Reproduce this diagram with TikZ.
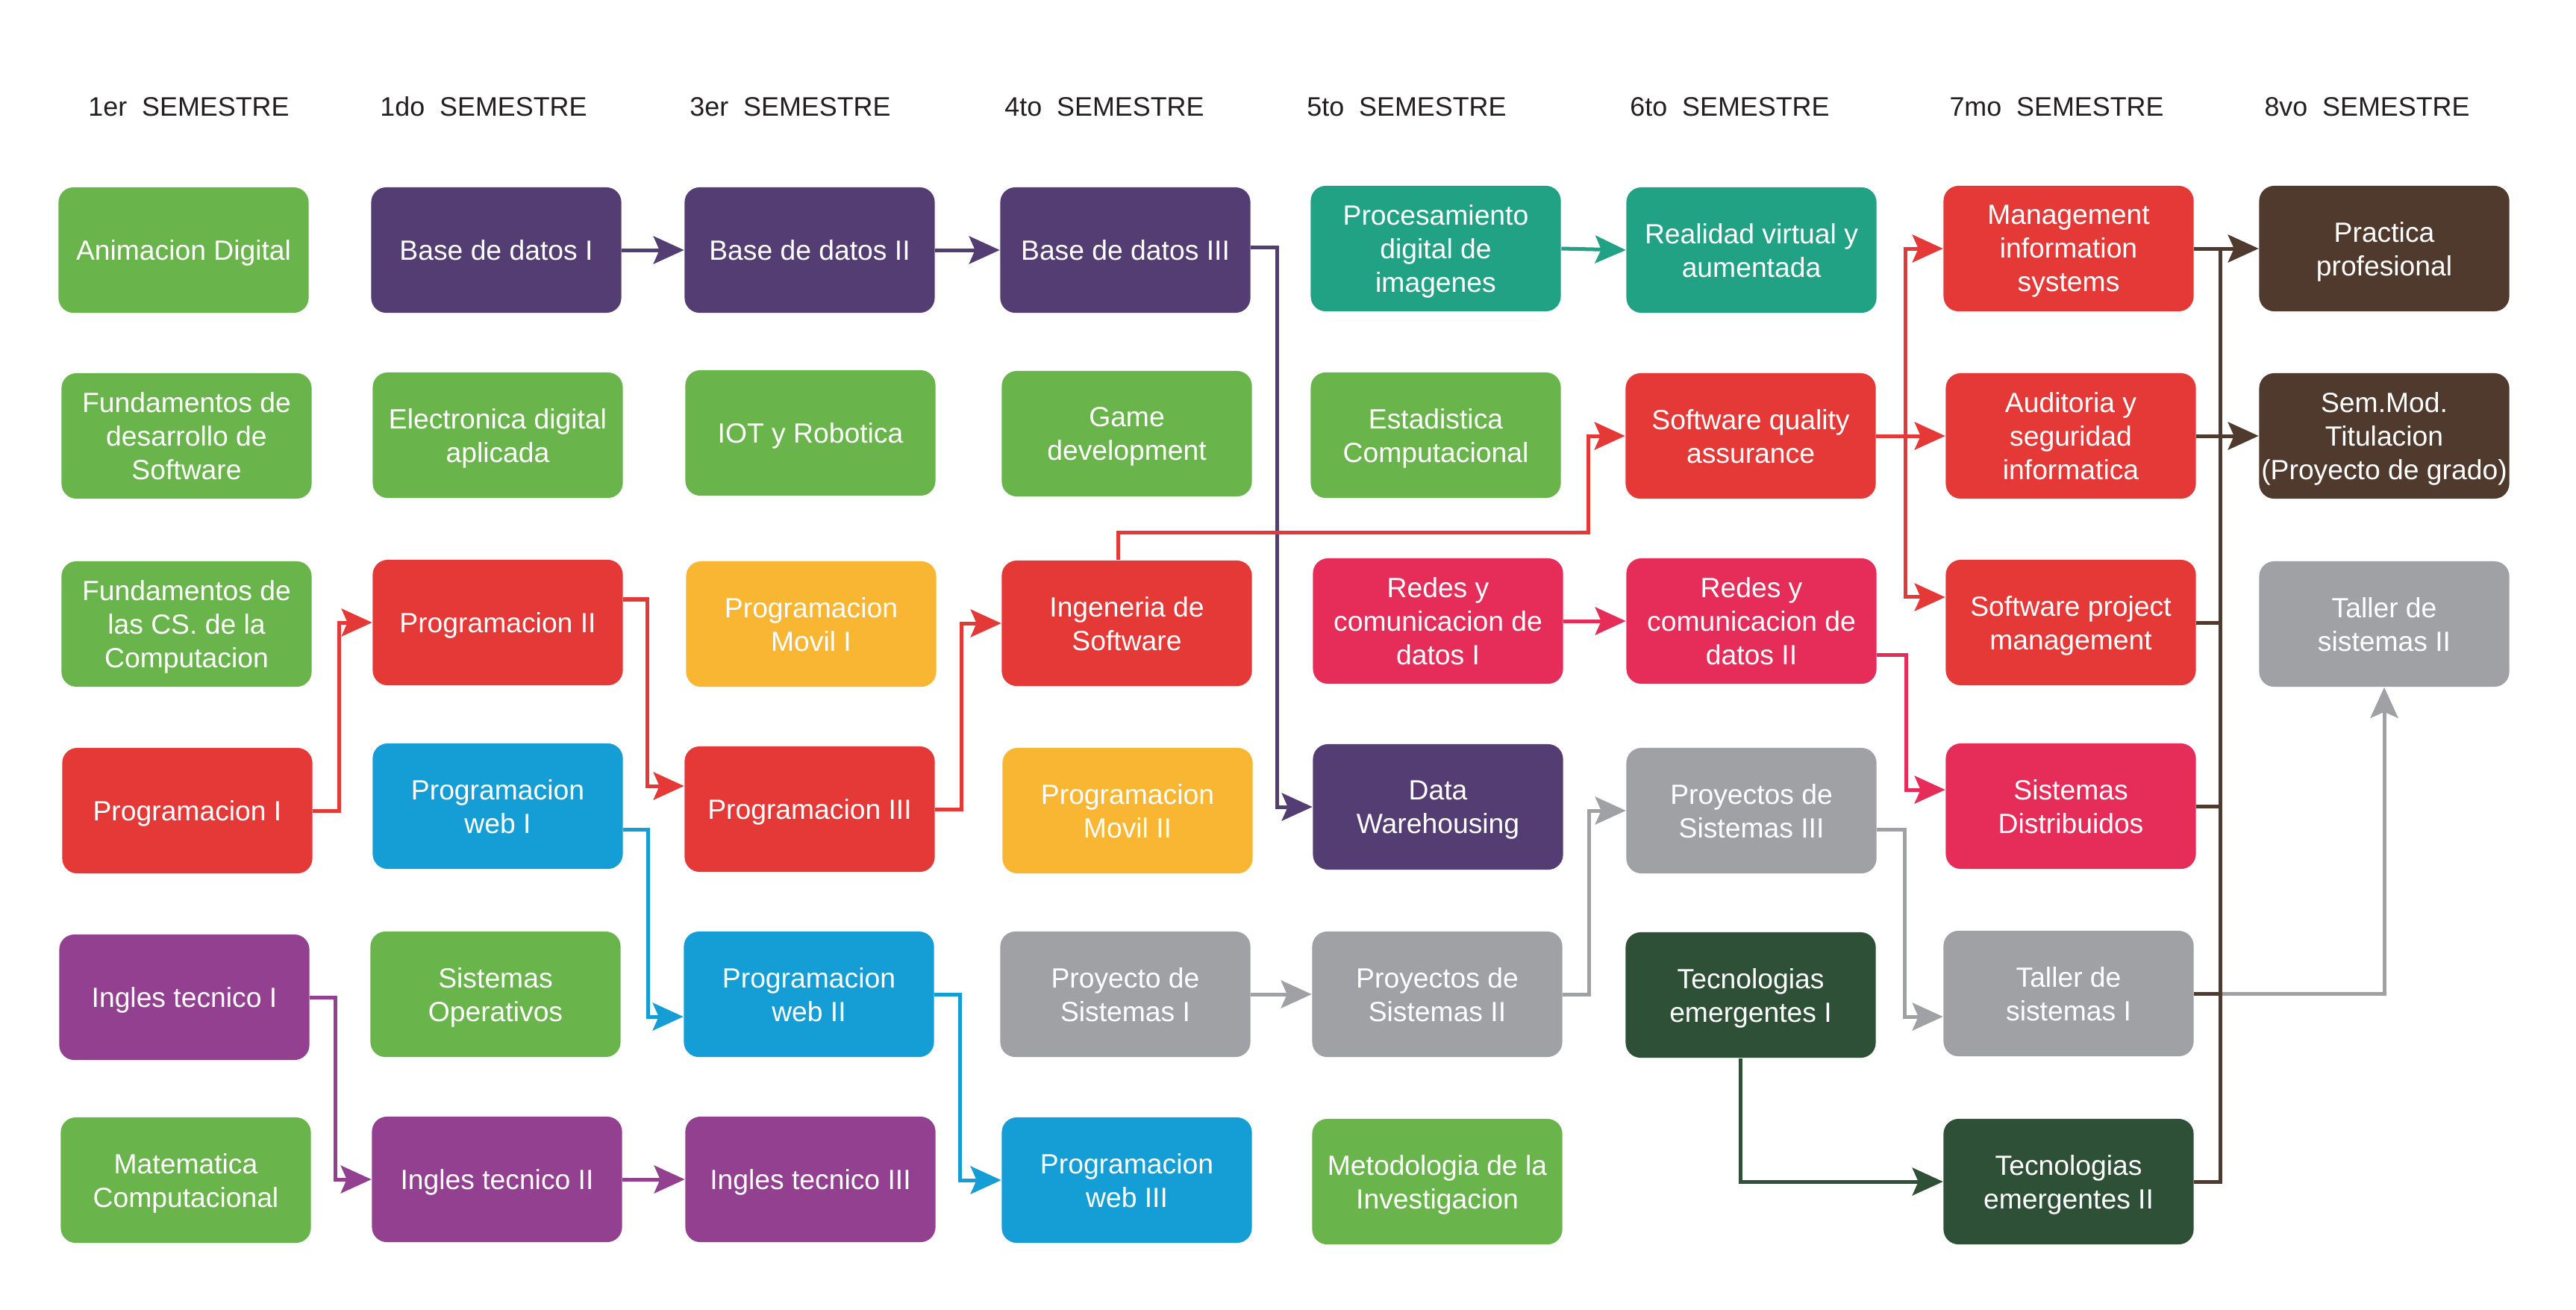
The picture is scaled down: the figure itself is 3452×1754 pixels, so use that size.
\documentclass[tikz,border=0pt]{standalone}
\usepackage{fontspec}
\setmainfont{Liberation Sans}
\usetikzlibrary{arrows.meta}
\definecolor{cgreen}{HTML}{6AB44C}
\definecolor{cpurple}{HTML}{533D73}
\definecolor{cteal}{HTML}{22A285}
\definecolor{cred}{HTML}{E53938}
\definecolor{cpink}{HTML}{E62D5A}
\definecolor{cyellow}{HTML}{F9B632}
\definecolor{cblue}{HTML}{159ED6}
\definecolor{cgray}{HTML}{A0A1A5}
\definecolor{cdgreen}{HTML}{2D5037}
\definecolor{cbrown}{HTML}{4F3A2D}
\definecolor{cmagenta}{HTML}{92408F}
\definecolor{ctext}{HTML}{231F20}
\tikzset{
  course/.style={rectangle, rounded corners=0.2cm, minimum width=3.35cm, minimum height=1.68cm,
    inner sep=0pt, align=center, text=white, text depth=0pt,
    font=\fontsize{10.6pt}{12.8pt}\selectfont},
  sem/.style={text=ctext, font=\fontsize{10.2pt}{12pt}\selectfont},
  link/.style={line width=0.05cm},
  arr/.style={link, -{Stealth[length=0.41cm,width=0.37cm,inset=0.08cm]}}
}
\begin{document}
\begin{tikzpicture}[x=0.01cm,y=-0.01cm]
\useasboundingbox[fill=white] (0,0) rectangle (3452,1754);

% headers
\node[sem] (h1) at (253,143) {1er\ \ SEMESTRE};
\node[sem] (h2) at (648,143) {1do\ \ SEMESTRE};
\node[sem] (h3) at (1059,143) {3er\ \ SEMESTRE};
\node[sem] (h4) at (1480,143) {4to\ \ SEMESTRE};
\node[sem] (h5) at (1885,143) {5to\ \ SEMESTRE};
\node[sem] (h6) at (2318,143) {6to\ \ SEMESTRE};
\node[sem] (h7) at (2756,143) {7mo\ \ SEMESTRE};
\node[sem] (h8) at (3172,143) {8vo\ \ SEMESTRE};

% column 1
\node[course, fill=cgreen] (anim) at (246,335) {Animacion Digital};
\node[course, fill=cgreen] (fundsw) at (250,584) {Fundamentos de\\desarrollo de\\Software};
\node[course, fill=cgreen] (fundcs) at (250,836) {Fundamentos de\\las CS. de la\\Computacion};
\node[course, fill=cred] (prog1) at (251,1086) {Programacion I};
\node[course, fill=cmagenta] (ing1) at (247,1336) {Ingles tecnico I};
\node[course, fill=cgreen] (mat) at (249,1581) {Matematica\\Computacional};

% column 2
\node[course, fill=cpurple] (bd1) at (665,335) {Base de datos I};
\node[course, fill=cgreen] (elec) at (667,583) {Electronica digital\\aplicada};
\node[course, fill=cred] (prog2) at (667,834) {Programacion II};
\node[course, fill=cblue] (web1) at (667,1080) {Programacion\\web I};
\node[course, fill=cgreen] (so) at (664,1332) {Sistemas\\Operativos};
\node[course, fill=cmagenta] (ing2) at (666,1580) {Ingles tecnico II};

% column 3
\node[course, fill=cpurple] (bd2) at (1085,335) {Base de datos II};
\node[course, fill=cgreen] (iot) at (1086,580) {IOT y Robotica};
\node[course, fill=cyellow] (movil1) at (1087,836) {Programacion\\Movil I};
\node[course, fill=cred] (prog3) at (1085,1084) {Programacion III};
\node[course, fill=cblue] (web2) at (1084,1332) {Programacion\\web II};
\node[course, fill=cmagenta] (ing3) at (1086,1580) {Ingles tecnico III};

% column 4
\node[course, fill=cpurple] (bd3) at (1508,335) {Base de datos III};
\node[course, fill=cgreen] (game) at (1510,581) {Game\\development};
\node[course, fill=cred] (ingsw) at (1510,835) {Ingeneria de\\Software};
\node[course, fill=cyellow] (movil2) at (1511,1086) {Programacion\\Movil II};
\node[course, fill=cgray] (proy1) at (1508,1332) {Proyecto de\\Sistemas I};
\node[course, fill=cblue] (web3) at (1510,1581) {Programacion\\web III};

% column 5
\node[course, fill=cteal] (proc) at (1924,333) {Procesamiento\\digital de\\imagenes};
\node[course, fill=cgreen] (est) at (1924,583) {Estadistica\\Computacional};
\node[course, fill=cpink] (redes1) at (1927,832) {Redes y\\comunicacion de\\datos I};
\node[course, fill=cpurple] (dw) at (1927,1081) {Data\\Warehousing};
\node[course, fill=cgray] (proy2) at (1926,1332) {Proyectos de\\Sistemas II};
\node[course, fill=cgreen] (met) at (1926,1583) {Metodologia de la\\Investigacion};

% column 6
\node[course, fill=cteal] (rv) at (2347,335) {Realidad virtual y\\aumentada};
\node[course, fill=cred] (sqa) at (2346,584) {Software quality\\assurance};
\node[course, fill=cpink] (redes2) at (2347,832) {Redes y\\comunicacion de\\datos II};
\node[course, fill=cgray] (proy3) at (2347,1086) {Proyectos de\\Sistemas III};
\node[course, fill=cdgreen] (tec1) at (2346,1333) {Tecnologias\\emergentes I};

% column 7
\node[course, fill=cred] (mis) at (2772,333) {Management\\information\\systems};
\node[course, fill=cred] (aud) at (2775,584) {Auditoria y\\seguridad\\informatica};
\node[course, fill=cred] (spm) at (2775,834) {Software project\\management};
\node[course, fill=cpink] (sd) at (2775,1080) {Sistemas\\Distribuidos};
\node[course, fill=cgray] (taller1) at (2772,1331) {Taller de\\sistemas I};
\node[course, fill=cdgreen] (tec2) at (2772,1583) {Tecnologias\\emergentes II};

% column 8
\node[course, fill=cbrown] (prac) at (3195,333) {Practica\\profesional};
\node[course, fill=cbrown] (semmod) at (3195,584) {Sem.Mod.\\Titulacion\\(Proyecto de grado)};
\node[course, fill=cgray] (taller2) at (3195,836) {Taller de\\sistemas II};

% purple
\draw[arr, cpurple] (bd1.east) -- (bd2.west);
\draw[arr, cpurple] (bd2.east) -- (bd3.west);
\draw[arr, cpurple] ([yshift=0.04cm]bd3.east) -| (1711,700) |- (dw.west);
% teal
\draw[arr, cteal] (proc.east) -- (rv.west);
% red programming chain
\draw[arr, cred] (prog1.east) -| (454,950) |- (prog2.west);
\draw[arr, cred] ([yshift=0.31cm]prog2.east) -| (867,950) |- ([yshift=0.31cm]prog3.west);
\draw[arr, cred] (prog3.east) -| (1288,950) |- (ingsw.west);
\draw[arr, cred] ([xshift=-0.12cm]ingsw.north) |- (2128,713) |- (sqa.west);
% blue
\draw[arr, cblue] ([yshift=-0.31cm]web1.east) -| (868,1200) |- ([yshift=-0.3cm]web2.west);
\draw[arr, cblue] (web2.east) -| (1286,1450) |- (web3.west);
% magenta
\draw[arr, cmagenta] (ing1.east) -| (449,1450) |- (ing2.west);
\draw[arr, cmagenta] (ing2.east) -- (ing3.west);
% pink
\draw[arr, cpink] (redes1.east) -- (redes2.west);
\draw[arr, cpink] ([yshift=-0.45cm]redes2.east) -| (2554,950) |- ([yshift=0.22cm]sd.west);
% gray
\draw[arr, cgray] (proy1.east) -- (proy2.west);
\draw[arr, cgray] (proy2.east) -| (2129,1200) |- (proy3.west);
\draw[arr, cgray] ([yshift=-0.25cm]proy3.east) -| (2552,1250) |- ([yshift=-0.31cm]taller1.west);
\draw[arr, cgray] (taller1.east) -| (taller2.south);
% dark green
\draw[arr, cdgreen] ([xshift=-0.14cm]tec1.south) |- (tec2.west);
% red bus from SQA
\draw[arr, cred] (sqa.east) -- (aud.west);
\draw[arr, cred] (sqa.east) -| (2553,450) |- (mis.west);
\draw[arr, cred] (sqa.east) -| (2553,700) |- ([yshift=0.34cm]spm.west);
% brown bus
\coordinate (bus) at (2975,335);
\draw[link, cbrown] (bus) -- (bus |- tec2.east) -- (tec2.east);
\draw[link, cbrown] (spm.east) -- (spm.east -| bus);
\draw[link, cbrown] (sd.east) -- (sd.east -| bus);
\draw[link, cbrown] (taller1.east) -- (taller1.east -| bus);
\draw[arr, cbrown] (mis.east) -- (prac.west);
\draw[arr, cbrown] (aud.east) -- (semmod.west);
\end{tikzpicture}
\end{document}
